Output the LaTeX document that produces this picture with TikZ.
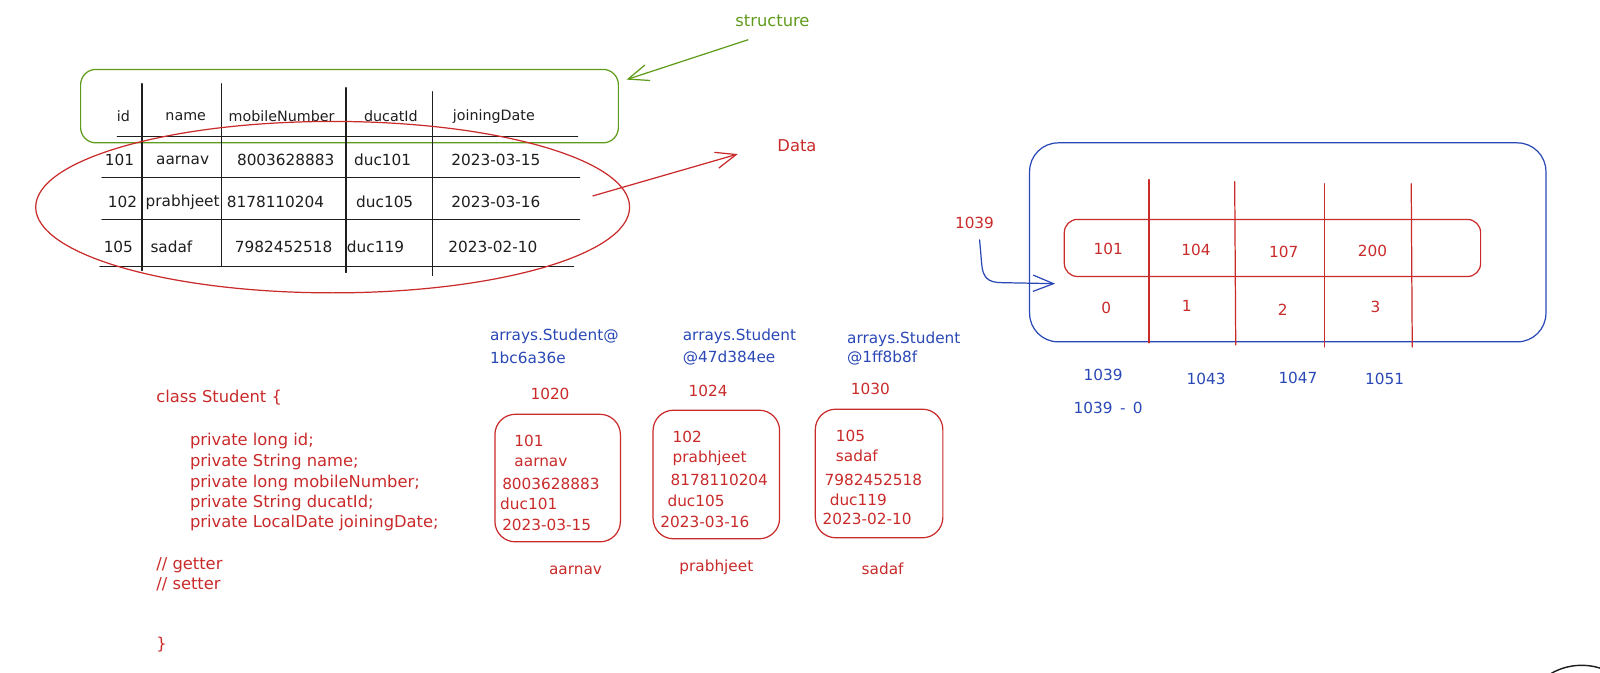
\documentclass[tikz,border=0pt]{standalone}
\usepackage{fontspec}
\setmainfont{DejaVu Sans}
\usetikzlibrary{arrows.meta}
\definecolor{inkred}{HTML}{C92A2A}
\definecolor{inkblue}{HTML}{2A48B5}
\definecolor{inkgreen}{HTML}{5F9B1A}
\definecolor{ink}{HTML}{1E1E1E}
\begin{document}
\begin{tikzpicture}[x=1pt,y=-1pt,line cap=round,line join=round,
  every node/.style={inner sep=0pt},
  f14/.style={font=\fontsize{14}{17}\selectfont},
  f15/.style={font=\fontsize{15}{18}\selectfont},
  f16/.style={font=\fontsize{16}{20}\selectfont},
  tcell/.style={f15,text=ink},
  thead/.style={f14,text=ink},
  rtxt/.style={f15,text=inkred},
  btxt/.style={f15,text=inkblue},
  codetxt/.style={f16,text=inkred,anchor=west},
  rule/.style={draw=ink,line width=1.4pt},
  barb/.style={-{Straight Barb[length=20pt,width=16pt]}},
  rbox/.style={draw=inkred,line width=1.2pt,rounded corners=20pt},
]
\useasboundingbox (0,0) rectangle (1568,659);

% ---------- table of students ----------
\node[draw=inkgreen,line width=1.2pt,rounded corners=15pt,minimum width=527pt,minimum height=72pt] (structbox) at (342.5,104) {};

\draw[rule] (115,134) -- (566,134);
\draw[rule] (100,174) -- (568,174);
\draw[rule] (100,215) -- (568,215);
\draw[rule] (98,261) -- (562,261);
\draw[rule] (139,82) -- (139,265);
\draw[rule] (217,82) -- (217,261);
\draw[rule] (339,86) -- (339,267);
\draw[rule] (424,90) -- (424,270);

\node[thead] (hid) at (121,114) {id};
\node[thead] (hname) at (182,114) {name};
\node[thead] (hmob) at (276,114) {mobileNumber};
\node[thead] (hduc) at (383,114) {ducatId};
\node[thead] (hjoin) at (484,114) {joiningDate};

\node[tcell] (r1a) at (117,157) {101};
\node[tcell] (r1b) at (179,157) {aarnav};
\node[tcell] (r1c) at (280,157) {8003628883};
\node[tcell] (r1d) at (375,157) {duc101};
\node[tcell] (r1e) at (486,157) {2023-03-15};

\node[tcell] (r2a) at (120,198) {102};
\node[tcell] (r2b) at (179,198) {prabhjeet};
\node[tcell] (r2c) at (270,198) {8178110204};
\node[tcell] (r2d) at (377,198) {duc105};
\node[tcell] (r2e) at (486,198) {2023-03-16};

\node[tcell] (r3a) at (116,242) {105};
\node[tcell] (r3b) at (168,242) {sadaf};
\node[tcell] (r3c) at (278,242) {7982452518};
\node[tcell] (r3d) at (368,242) {duc119};
\node[tcell] (r3e) at (483,242) {2023-02-10};

% data rows circled
\draw[inkred,line width=1.2pt] (326,203) ellipse [x radius=291, y radius=84];

% labels with arrows
\node[f16,text=inkgreen] (structlbl) at (757,20) {structure};
\coordinate (structtail) at (733,39);
\coordinate (structhead) at (614,78);
\draw[inkgreen,line width=1.2pt,barb] (structtail) -- (structhead);

\node[f16,text=inkred] (datalbl) at (781,143) {Data};
\coordinate (datatail) at (581,192);
\coordinate (datahead) at (723,151);
\draw[inkred,line width=1.2pt,barb] (datatail) -- (datahead);

% ---------- class definition ----------
\node[codetxt] (cls) at (153,390) {class Student \{};
\node[codetxt] (f1) at (186,432) {private long id;};
\node[codetxt] (f2) at (186,453) {private String name;};
\node[codetxt] (f3) at (186,473) {private long mobileNumber;};
\node[codetxt] (f4) at (186,493) {private String ducatId;};
\node[codetxt] (f5) at (186,513) {private LocalDate joiningDate;};
\node[codetxt] (get) at (153,554) {// getter};
\node[codetxt] (set) at (153,573) {// setter};
\node[codetxt] (close) at (153,632) {\}};

% ---------- objects in memory ----------
\node[btxt,anchor=west] (ref1a) at (480,330) {arrays.Student@};
\node[btxt,anchor=west] (ref1b) at (480,351) {1bc6a36e};
\node[btxt,anchor=west] (ref2a) at (669,330) {arrays.Student};
\node[btxt,anchor=west] (ref2b) at (669,351) {@47d384ee};
\node[btxt,anchor=west] (ref3a) at (830,332) {arrays.Student};
\node[btxt,anchor=west] (ref3b) at (830,351) {@1ff8b8f};

\node[rtxt] (addr1) at (539,386) {1020};
\node[rtxt] (addr2) at (694,383) {1024};
\node[rtxt] (addr3) at (853,381) {1030};

\node[rbox,minimum width=123pt,minimum height=125pt] (obj1) at (546.5,468.5) {};
\node[rbox,minimum width=124pt,minimum height=126pt] (obj2) at (702,465) {};
\node[rbox,minimum width=125pt,minimum height=126pt] (obj3) at (861.5,464) {};

\node[rtxt,anchor=west] (o1a) at (504,432) {101};
\node[rtxt,anchor=west] (o1b) at (504,453) {aarnav};
\node[rtxt,anchor=west] (o1c) at (492,474) {8003628883};
\node[rtxt,anchor=west] (o1d) at (490,494) {duc101};
\node[rtxt,anchor=west] (o1e) at (492,514) {2023-03-15};

\node[rtxt,anchor=west] (o2a) at (659,428) {102};
\node[rtxt,anchor=west] (o2b) at (659,449) {prabhjeet};
\node[rtxt,anchor=west] (o2c) at (657,470) {8178110204};
\node[rtxt,anchor=west] (o2d) at (654,491) {duc105};
\node[rtxt,anchor=west] (o2e) at (647,511) {2023-03-16};

\node[rtxt,anchor=west] (o3a) at (819,427) {105};
\node[rtxt,anchor=west] (o3b) at (819,447) {sadaf};
\node[rtxt,anchor=west] (o3c) at (808,470) {7982452518};
\node[rtxt,anchor=west] (o3d) at (813,490) {duc119};
\node[rtxt,anchor=west] (o3e) at (806,509) {2023-02-10};

\node[rtxt] (var1) at (564,559) {aarnav};
\node[rtxt] (var2) at (702,556) {prabhjeet};
\node[rtxt] (var3) at (865,557) {sadaf};

% ---------- array layout ----------
\node[draw=inkblue,line width=1.2pt,rounded corners=28pt,minimum width=506pt,minimum height=195pt] (arrbox) at (1262,237.5) {};
\node[draw=inkred,line width=1.2pt,rounded corners=13pt,minimum width=408pt,minimum height=56pt] (cells) at (1247,243) {};

\draw[inkred,line width=1.2pt] (1126,176) -- (1126,336);
\draw[inkred,line width=1.2pt] (1210,178) -- (1211,338);
\draw[inkred,line width=1.2pt] (1298,180) -- (1298,340);
\draw[inkred,line width=1.2pt] (1383,180) -- (1384,340);

\node[rtxt] (v0) at (1086,244) {101};
\node[rtxt] (v1) at (1172,245) {104};
\node[rtxt] (v2) at (1258,247) {107};
\node[rtxt] (v3) at (1345,246) {200};

\node[rtxt] (i0) at (1084,302) {0};
\node[rtxt] (i1) at (1163,300) {1};
\node[rtxt] (i2) at (1257,304) {2};
\node[rtxt] (i3) at (1348,301) {3};

\node[rtxt] (base) at (955,218) {1039};
\coordinate (basefrom) at (960,235);
\coordinate (baseto) at (1034,278);
\draw[inkblue,line width=1.2pt,barb] (basefrom) -- (962,258) .. controls (963,272) and (968,277) .. (982,277) -- (baseto);

\node[btxt] (a0) at (1081,367) {1039};
\node[btxt] (a1) at (1182,371) {1043};
\node[btxt] (a2) at (1272,370) {1047};
\node[btxt] (a3) at (1357,371) {1051};
\node[btxt] (calc) at (1086,400) {1039 \,-\, 0};

% partly visible round shape at the lower right corner
\begin{scope}
  \clip (0,0) rectangle (1568,659);
  \draw[ink,line width=1.4pt] (1550,712) circle [radius=60];
\end{scope}
\end{tikzpicture}
\end{document}
